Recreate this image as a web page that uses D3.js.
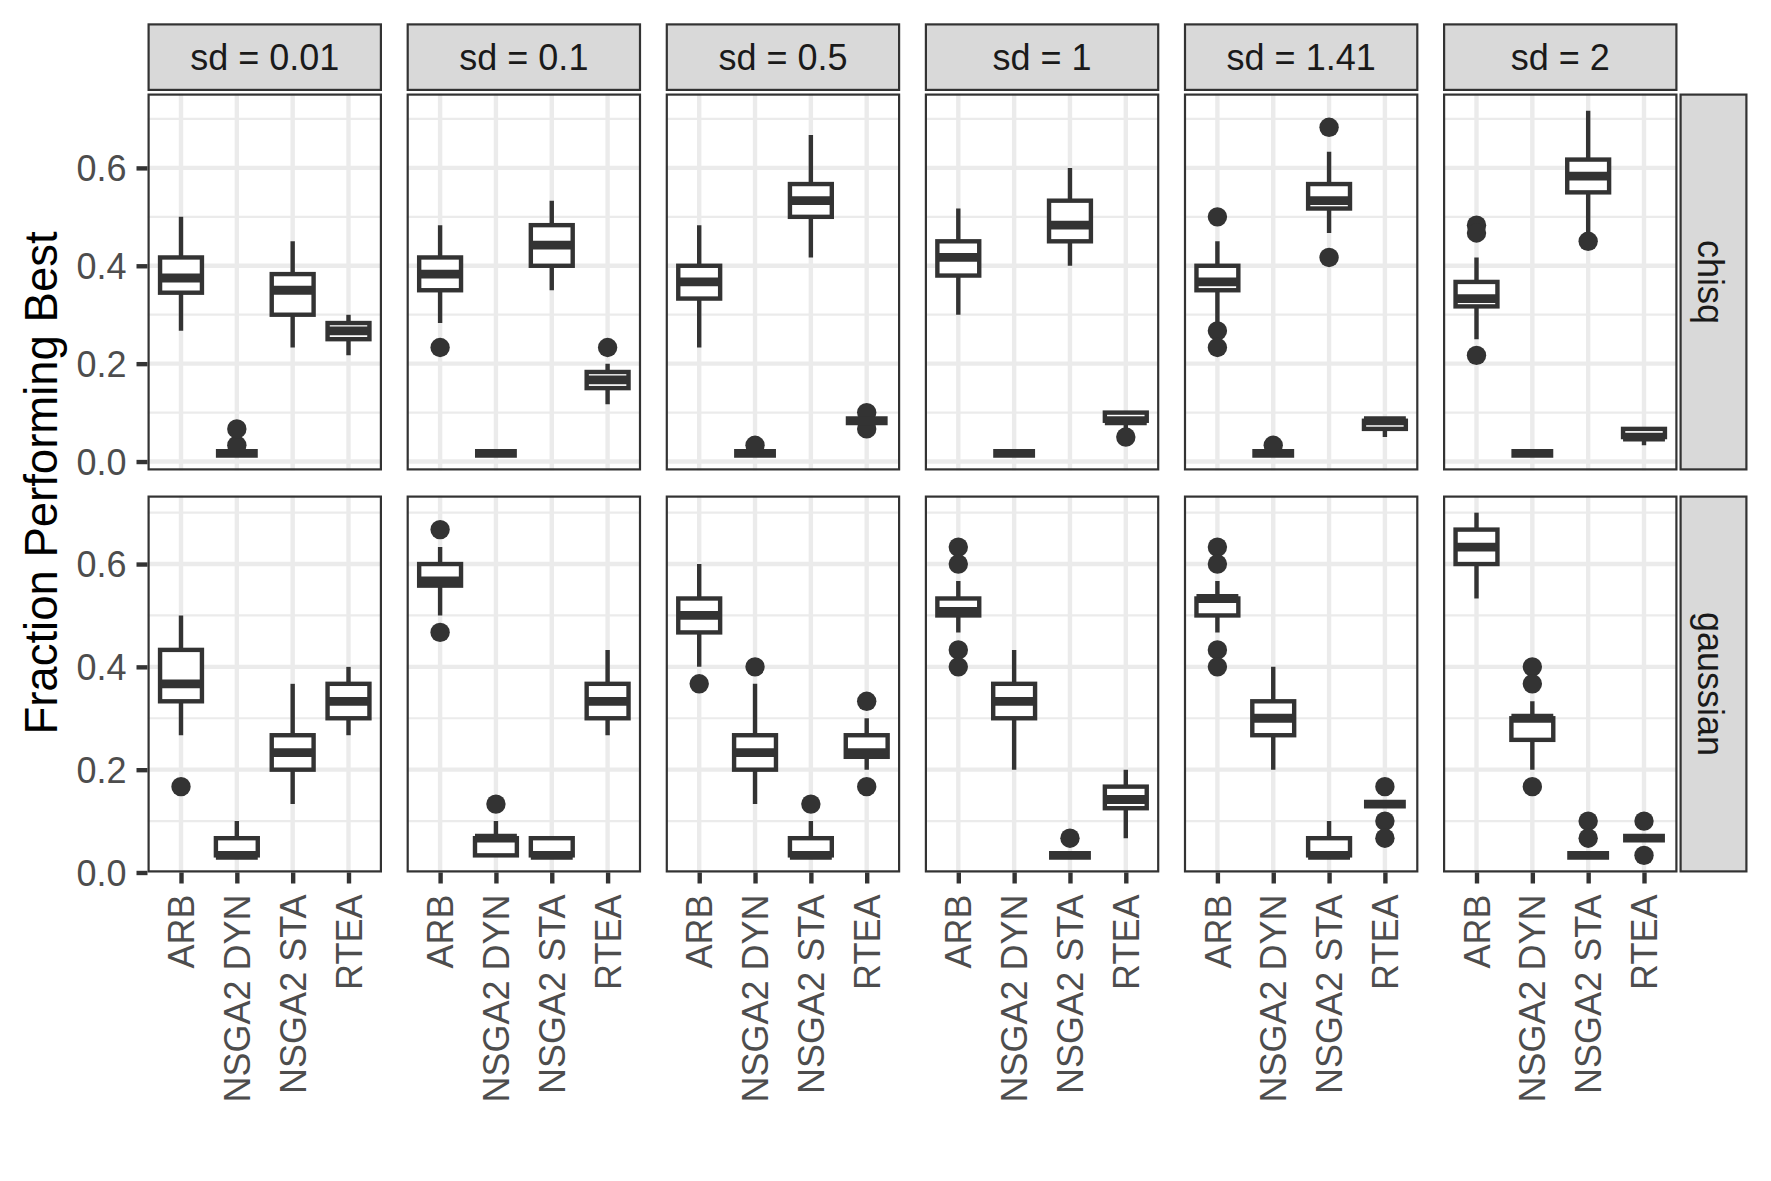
<!DOCTYPE html>
<html lang="en">

<head>
    <meta charset="utf-8" />
    <title>Fraction Performing Best</title>
    <script src="https://cdn.jsdelivr.net/npm/d3@7"></script>
    <style>
        body { margin: 0; background: white; }
        text { font-family: "Liberation Sans", Arial, sans-serif; }
    </style>
</head>

<body>

</body>

<script>

    // ---- data ----
    const sdLabels = ['sd = 0.01', 'sd = 0.1', 'sd = 0.5', 'sd = 1', 'sd = 1.41', 'sd = 2'];
    const algorithms = ['ARB', 'NSGA2 DYN', 'NSGA2 STA', 'RTEA'];
    const noiseTypes = ['chisq', 'gaussian'];
    const yTicks = [0, 0.2, 0.4, 0.6];
    const yMinorTicks = [0.1, 0.3, 0.5, 0.7];

    // [lower whisker, q1, median, q3, upper whisker] per sd, per algorithm
    const chisqBoxes = [
        [[0.267, 0.345, 0.375, 0.417, 0.5], [0.0167, 0.0167, 0.0167, 0.0167, 0.0167], [0.233, 0.3, 0.35, 0.383, 0.45], [0.217, 0.25, 0.267, 0.283, 0.3]],
        [[0.283, 0.35, 0.383, 0.417, 0.483], [0.0167, 0.0167, 0.0167, 0.0167, 0.0167], [0.35, 0.4, 0.442, 0.483, 0.533], [0.117, 0.15, 0.167, 0.183, 0.2]],
        [[0.233, 0.333, 0.367, 0.4, 0.483], [0.0167, 0.0167, 0.0167, 0.0167, 0.0167], [0.417, 0.5, 0.533, 0.567, 0.667], [0.0833, 0.0833, 0.0833, 0.0833, 0.0833]],
        [[0.3, 0.38, 0.417, 0.45, 0.517], [0.0167, 0.0167, 0.0167, 0.0167, 0.0167], [0.4, 0.45, 0.483, 0.533, 0.6], [0.0667, 0.0833, 0.0833, 0.1, 0.1]],
        [[0.283, 0.35, 0.367, 0.4, 0.45], [0.0167, 0.0167, 0.0167, 0.0167, 0.0167], [0.467, 0.517, 0.533, 0.567, 0.633], [0.05, 0.0667, 0.0833, 0.0833, 0.0833]],
        [[0.25, 0.317, 0.333, 0.367, 0.417], [0.0167, 0.0167, 0.0167, 0.0167, 0.0167], [0.467, 0.55, 0.583, 0.617, 0.717], [0.0333, 0.05, 0.05, 0.0667, 0.0667]]
    ];
    const chisqOutliers = [
        [[], [0.0333, 0.0667], [], []],
        [[0.233], [], [], [0.233]],
        [[], [0.0333], [], [0.0667, 0.1]],
        [[], [], [], [0.05]],
        [[0.5, 0.267, 0.233], [0.0333], [0.683, 0.417], []],
        [[0.483, 0.467, 0.217], [], [0.45], []]
    ];

    const gaussianBoxes = [
        [[0.267, 0.333, 0.367, 0.433, 0.5], [0.0333, 0.0333, 0.0333, 0.0667, 0.1], [0.133, 0.2, 0.233, 0.267, 0.367], [0.267, 0.3, 0.333, 0.367, 0.4]],
        [[0.5, 0.558, 0.567, 0.6, 0.633], [0.0333, 0.0333, 0.0667, 0.0667, 0.1], [0.0333, 0.0333, 0.0333, 0.0667, 0.0667], [0.267, 0.3, 0.333, 0.367, 0.433]],
        [[0.4, 0.467, 0.5, 0.533, 0.6], [0.133, 0.2, 0.233, 0.267, 0.367], [0.0333, 0.0333, 0.0333, 0.0667, 0.1], [0.2, 0.225, 0.233, 0.267, 0.3]],
        [[0.467, 0.5, 0.508, 0.533, 0.567], [0.2, 0.3, 0.333, 0.367, 0.433], [0.0333, 0.0333, 0.0333, 0.0333, 0.0333], [0.0667, 0.125, 0.142, 0.167, 0.2]],
        [[0.467, 0.5, 0.533, 0.533, 0.567], [0.2, 0.267, 0.3, 0.333, 0.4], [0.0333, 0.0333, 0.0333, 0.0667, 0.1], [0.133, 0.133, 0.133, 0.133, 0.133]],
        [[0.533, 0.6, 0.633, 0.667, 0.7], [0.2, 0.258, 0.3, 0.3, 0.333], [0.0333, 0.0333, 0.0333, 0.0333, 0.0333], [0.0667, 0.0667, 0.0667, 0.0667, 0.0667]]
    ];
    const gaussianOutliers = [
        [[0.167], [], [], []],
        [[0.667, 0.467], [0.133], [], []],
        [[0.367], [0.4], [0.133], [0.333, 0.167]],
        [[0.633, 0.6, 0.433, 0.4], [], [0.0667], []],
        [[0.633, 0.6, 0.433, 0.4], [], [], [0.167, 0.1, 0.0667]],
        [[], [0.4, 0.367, 0.167], [0.1, 0.0667], [0.1, 0.0333]]
    ];

    // ---- layout ----
    let panel = { left: 147.5, width: 234.5, gap: 24.6, height: 377 };
    let rowTops = [93.5, 495.5];
    let strip = { top: 23.3, height: 67.7, rightX: 1679.5, rightW: 68 };
    let line = 4.4;  // ggplot 0.5 linewidth
    let dark = '#333333';
    let smallFont = '36px';

    let svg = d3.select('body')
        .append('svg')
        .attr('width', 1771)
        .attr('height', 1181);

    svg.append('rect').attr('width', 1771).attr('height', 1181).attr('fill', 'white');

    svg.append('clipPath').attr('id', 'panel-clip')
        .append('rect')
        .attr('width', panel.width)
        .attr('height', panel.height);

    let x = d3.scalePoint()
        .domain(algorithms)
        .range([0, panel.width])
        .padding(0.6);
    let boxWidth = x.step() * 0.75;

    noiseTypes.forEach((noise, r) => {
        let boxes = r === 0 ? chisqBoxes : gaussianBoxes;
        let outliers = r === 0 ? chisqOutliers : gaussianOutliers;

        // ggplot style 5% expansion on both ends
        let ext = d3.extent(boxes.flat(2).concat(outliers.flat(2)));
        let pad = (ext[1] - ext[0]) * 0.05;
        let y = d3.scaleLinear()
            .domain([ext[0] - pad, ext[1] + pad])
            .range([panel.height, 0]);

        sdLabels.forEach((sd, c) => {
            let px = panel.left + c * (panel.width + panel.gap);
            let g = svg.append('g')
                .attr('transform', `translate(${px},${rowTops[r]})`);

            let inner = g.append('g').attr('clip-path', 'url(#panel-clip)');

            inner.append('rect')
                .attr('width', panel.width)
                .attr('height', panel.height)
                .attr('fill', 'white');

            // grid
            inner.selectAll('.minor')
                .data(yMinorTicks.filter(v => v >= y.domain()[0] && v <= y.domain()[1]))
                .enter().append('line')
                .attr('x1', 0).attr('x2', panel.width)
                .attr('y1', d => y(d)).attr('y2', d => y(d))
                .attr('stroke', '#EBEBEB').attr('stroke-width', line / 2);

            inner.selectAll('.major')
                .data(yTicks)
                .enter().append('line')
                .attr('x1', 0).attr('x2', panel.width)
                .attr('y1', d => y(d)).attr('y2', d => y(d))
                .attr('stroke', '#EBEBEB').attr('stroke-width', line);

            inner.selectAll('.vgrid')
                .data(algorithms)
                .enter().append('line')
                .attr('x1', d => x(d)).attr('x2', d => x(d))
                .attr('y1', 0).attr('y2', panel.height)
                .attr('stroke', '#EBEBEB').attr('stroke-width', line);

            // boxplots
            algorithms.forEach((alg, i) => {
                let s = boxes[c][i];
                let cx = x(alg);

                inner.selectAll(null)
                    .data(outliers[c][i])
                    .enter().append('circle')
                    .attr('cx', cx)
                    .attr('cy', d => y(d))
                    .attr('r', 9.7)
                    .attr('fill', dark);

                inner.append('line')
                    .attr('x1', cx).attr('x2', cx)
                    .attr('y1', y(s[3])).attr('y2', y(s[4]))
                    .attr('stroke', dark).attr('stroke-width', line);
                inner.append('line')
                    .attr('x1', cx).attr('x2', cx)
                    .attr('y1', y(s[1])).attr('y2', y(s[0]))
                    .attr('stroke', dark).attr('stroke-width', line);

                inner.append('rect')
                    .attr('x', cx - boxWidth / 2)
                    .attr('y', y(s[3]))
                    .attr('width', boxWidth)
                    .attr('height', y(s[1]) - y(s[3]))
                    .attr('fill', 'white')
                    .attr('stroke', dark)
                    .attr('stroke-width', line);

                inner.append('line')
                    .attr('x1', cx - boxWidth / 2).attr('x2', cx + boxWidth / 2)
                    .attr('y1', y(s[2])).attr('y2', y(s[2]))
                    .attr('stroke', dark).attr('stroke-width', line * 2);
            });

            // panel border
            g.append('rect')
                .attr('x', line / 4).attr('y', line / 4)
                .attr('width', panel.width - line / 2)
                .attr('height', panel.height - line / 2)
                .attr('fill', 'none')
                .attr('stroke', dark)
                .attr('stroke-width', line / 2);

            // y axis on first column
            if (c === 0) {
                let ya = g.append('g')
                    .call(d3.axisLeft(y).tickValues(yTicks).tickFormat(d3.format('.1f')).tickSize(11).tickPadding(10));
                ya.select('.domain').remove();
                ya.selectAll('line').attr('stroke', dark).attr('stroke-width', line);
                ya.selectAll('text')
                    .attr('fill', '#4D4D4D')
                    .attr('dy', '0.35em')
                    .style('font-size', smallFont);
            }

            // x axis on bottom row
            if (r === noiseTypes.length - 1) {
                let xa = g.append('g')
                    .attr('transform', `translate(0,${panel.height})`)
                    .call(d3.axisBottom(x).tickSize(11));
                xa.select('.domain').remove();
                xa.selectAll('line').attr('stroke', dark).attr('stroke-width', line);
                xa.selectAll('text')
                    .attr('transform', 'rotate(-90)')
                    .attr('x', -22)
                    .attr('y', 0)
                    .attr('dy', '0.35em')
                    .attr('fill', '#4D4D4D')
                    .style('text-anchor', 'end')
                    .style('font-size', smallFont);
            }

            // top strips
            if (r === 0) {
                let st = svg.append('g')
                    .attr('transform', `translate(${px},${strip.top})`);
                st.append('rect')
                    .attr('x', line / 4).attr('y', line / 4)
                    .attr('width', panel.width - line / 2)
                    .attr('height', strip.height - line / 2)
                    .attr('fill', '#D9D9D9')
                    .attr('stroke', dark)
                    .attr('stroke-width', line / 2);
                st.append('text')
                    .attr('x', panel.width / 2)
                    .attr('y', strip.height / 2)
                    .attr('dy', '0.35em')
                    .attr('text-anchor', 'middle')
                    .attr('fill', '#1A1A1A')
                    .style('font-size', smallFont)
                    .text(sd);
            }
        });

        // right strip
        let rs = svg.append('g')
            .attr('transform', `translate(${strip.rightX},${rowTops[r]})`);
        rs.append('rect')
            .attr('x', line / 4).attr('y', line / 4)
            .attr('width', strip.rightW - line / 2)
            .attr('height', panel.height - line / 2)
            .attr('fill', '#D9D9D9')
            .attr('stroke', dark)
            .attr('stroke-width', line / 2);
        rs.append('text')
            .attr('transform', `translate(${strip.rightW / 2 - 3},${panel.height / 2}) rotate(90)`)
            .attr('dy', '0.35em')
            .attr('text-anchor', 'middle')
            .attr('fill', '#1A1A1A')
            .style('font-size', smallFont)
            .text(noise);
    });

    // y axis title
    svg.append('text')
        .attr('transform', `translate(41,${(rowTops[0] + rowTops[1] + panel.height) / 2}) rotate(-90)`)
        .attr('dy', '0.35em')
        .attr('text-anchor', 'middle')
        .attr('fill', 'black')
        .style('font-size', '45.5px')
        .text('Fraction Performing Best');

</script>

</html>
